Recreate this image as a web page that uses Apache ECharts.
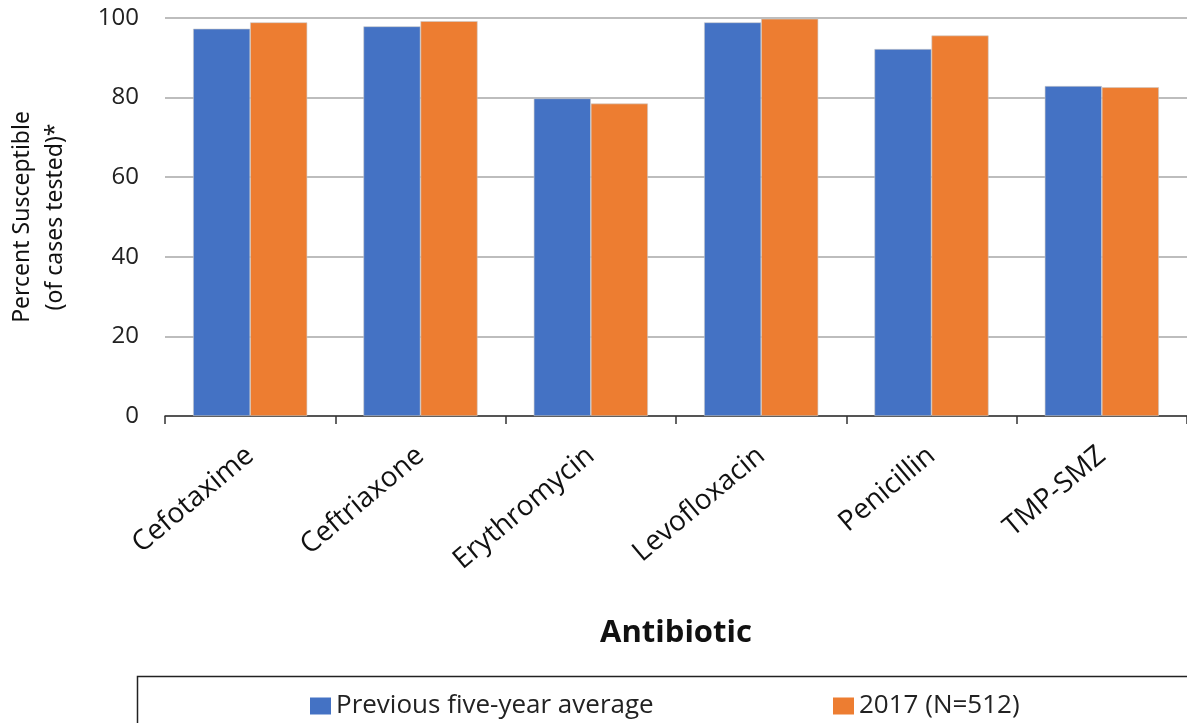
<!DOCTYPE html>
<html><head><meta charset="utf-8">
<script src="https://cdn.jsdelivr.net/npm/echarts@6/dist/echarts.min.js"></script>
<style>html,body{margin:0;padding:0;background:#fff}#c{width:1187px;height:723px}</style>
</head><body><div id="c"></div>
<script>
const categories = ['Cefotaxime','Ceftriaxone','Erythromycin','Levofloxacin','Penicillin','TMP-SMZ'];
const prevAvg = [97.3, 97.9, 79.8, 98.9, 92.2, 82.9];
const y2017 = [98.9, 99.2, 78.5, 99.8, 95.6, 82.6];
const seriesNames = ['Previous five-year average','2017 (N=512)'];
const yTicks = {min:0, max:100, interval:20};

const chart = echarts.init(document.getElementById('c'));
const narrow = "'Liberation Sans Narrow','Noto Sans',sans-serif";
const sans = "'Open Sans',sans-serif";
chart.setOption({
  animation:false,
  grid:{left:165, right:0, top:18, bottom:307, containLabel:false, outerBoundsMode:'none'},
  legend:[
    {data:[seriesNames[0]], left:305, top:688, itemWidth:21, itemHeight:17, itemGap:6, icon:'rect',
     itemStyle:{borderWidth:0}, textStyle:{fontFamily:sans, fontSize:26, color:'#222'}},
    {data:[seriesNames[1]], left:828, top:688, itemWidth:21, itemHeight:17, itemGap:6, icon:'rect',
     itemStyle:{borderWidth:0}, textStyle:{fontFamily:sans, fontSize:26, color:'#222'}}
  ],
  graphic:[{type:'rect', shape:{x:137.5, y:676.5, width:1060, height:60}, style:{fill:'none', stroke:'#222', lineWidth:1.5}}],
  xAxis:{type:'category', data:categories,
    name:'Antibiotic', nameLocation:'middle', nameGap:202,
    nameTextStyle:{fontFamily:sans, fontWeight:'bold', fontSize:31, color:'#111'},
    axisLine:{lineStyle:{color:'#333', width:1.5}},
    axisTick:{show:true, length:8, lineStyle:{color:'#333', width:1.5}},
    axisLabel:{rotate:40, fontFamily:sans, fontSize:28, color:'#111', margin:36, interval:0}
  },
  yAxis:{type:'value', min:yTicks.min, max:yTicks.max, interval:yTicks.interval,
    name:'Percent Susceptible\n(of cases tested)*', nameLocation:'middle', nameGap:93, nameRotate:90,
    nameTextStyle:{fontFamily:narrow, fontSize:23, color:'#111', lineHeight:33},
    axisLine:{show:false}, axisTick:{show:false},
    axisLabel:{fontFamily:sans, fontSize:24, color:'#222', margin:26},
    splitLine:{lineStyle:{color:'#bdbdbd', width:2}}
  },
  series:[
    {name:seriesNames[0], type:'bar', data:prevAvg, barGap:'0%', barCategoryGap:'33%',
     itemStyle:{color:'#4472C4', borderColor:'#c9c9c9', borderWidth:0.6}},
    {name:seriesNames[1], type:'bar', data:y2017, barGap:'0%', barCategoryGap:'33%',
     itemStyle:{color:'#ED7D31', borderColor:'#c9c9c9', borderWidth:0.6}}
  ]
});
</script></body></html>
